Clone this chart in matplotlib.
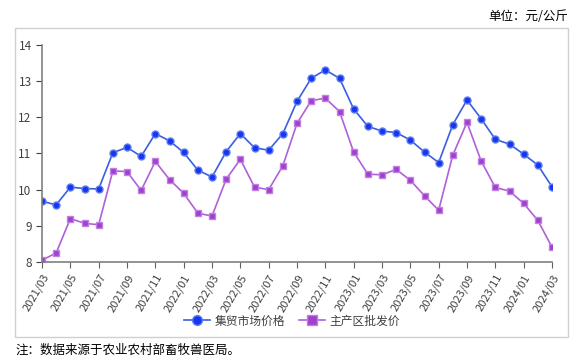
import numpy as np
import matplotlib.pyplot as plt
from matplotlib.patches import Rectangle

plt.rcParams['font.family'] = ['Noto Sans CJK SC', 'DejaVu Sans']

# 2021/03 - 2024/03 monthly
months = []
for y in range(2021, 2025):
    for m in range(1, 13):
        if (y == 2021 and m < 3) or (y == 2024 and m > 3):
            continue
        months.append('%d/%02d' % (y, m))

market = [9.68, 9.58, 10.07, 10.03, 10.02, 11.02, 11.17, 10.92, 11.55, 11.35,
          11.03, 10.54, 10.35, 11.05, 11.55, 11.16, 11.09, 11.55, 12.44, 13.08,
          13.31, 13.08, 12.23, 11.75, 11.62, 11.58, 11.37, 11.04, 10.75, 11.80,
          12.48, 11.96, 11.39, 11.26, 10.98, 10.68, 10.08]
wholesale = [8.05, 8.25, 9.20, 9.07, 9.03, 10.52, 10.50, 9.98, 10.78, 10.28,
             9.90, 9.35, 9.27, 10.29, 10.84, 10.07, 10.00, 10.66, 11.83, 12.46,
             12.53, 12.16, 11.04, 10.43, 10.41, 10.56, 10.26, 9.83, 9.43, 10.96,
             11.86, 10.79, 10.06, 9.96, 9.62, 9.15, 8.41]

fig = plt.figure(figsize=(5.8, 3.62), dpi=100)
# outer frame
fig.patches.append(Rectangle((15/580, 1-337/362), 553/580, 309/362,
                             transform=fig.transFigure, fill=False,
                             edgecolor='#d0d0d0', linewidth=1))
ax = fig.add_axes([42/580, 1-262/362, 510/580, 217/362])
x = np.arange(len(months))
ax.plot(x, market, color='#3a5fe0', marker='o', markersize=5,
        markerfacecolor='#1a35f0', markeredgecolor='#5a7cf0', linewidth=1.2,
        label='集贸市场价格')
ax.plot(x, wholesale, color='#b060d8', marker='s', markersize=5,
        markerfacecolor='#a040d0', markeredgecolor='#c080e0', linewidth=1.2,
        label='主产区批发价')
ax.set_xlim(0, len(months)-1)
ax.set_ylim(8, 14)
ax.set_yticks(range(8, 15))
ax.set_xticks(x[::2])
ax.set_xticklabels(months[::2], rotation=60, ha='right', rotation_mode='anchor',
                   fontsize=8, color='#404040')
ax.tick_params(axis='y', labelsize=8.5, colors='#404040', length=4)
ax.tick_params(axis='x', length=4, colors='#606060')
for lab in ax.get_xticklabels():
    lab.set_color('#404040')
for s in ['top', 'right']:
    ax.spines[s].set_visible(False)
for s in ['left', 'bottom']:
    ax.spines[s].set_color('#808080')
    ax.spines[s].set_linewidth(1.2)

fig.legend(loc='center', bbox_to_anchor=(292/580, 1-321/362), ncol=2,
           frameon=False, fontsize=8.5, handlelength=2.2, columnspacing=1.2,
           handletextpad=0.4, labelcolor='#404040', markerscale=1.4)

fig.text(568/580, 1-16/362, '单位：元/公斤', ha='right', va='center', fontsize=9)
fig.text(15/580, 1-350/362, '注：数据来源于农业农村部畜牧兽医局。', ha='left',
         va='center', fontsize=9)

fig.savefig('out.png', dpi=100)
